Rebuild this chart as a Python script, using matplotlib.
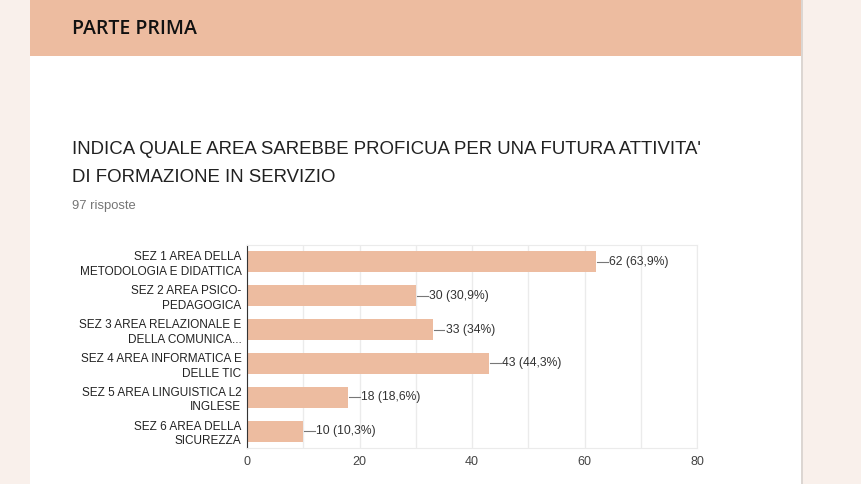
import matplotlib.pyplot as plt
from matplotlib.patches import Rectangle

# -------- DATA ------------------------------------------------------
categories = [
    "SEZ 1 AREA DELLA\nMETODOLOGIA E DIDATTICA",
    "SEZ 2 AREA PSICO-\nPEDAGOGICA",
    "SEZ 3 AREA RELAZIONALE E\nDELLA COMUNICA...",
    "SEZ 4 AREA INFORMATICA E\nDELLE TIC",
    "SEZ 5 AREA LINGUISTICA L2\nINGLESE",
    "SEZ 6 AREA DELLA\nSICUREZZA",
]
counts = [62, 30, 33, 43, 18, 10]
percents = ["63,9%", "30,9%", "34%", "44,3%", "18,6%", "10,3%"]
xticks = [0, 20, 40, 60, 80]
# --------------------------------------------------------------------

W, H = 861, 484
BAR = "#edbca0"
PAGE = "#f9f0eb"

plt.rcParams["font.family"] = ["Liberation Sans", "DejaVu Sans"]


def px(x0, y0, x1, y1):
    # pixel box (top-left origin) -> figure fraction rect
    return [x0 / W, 1 - y1 / H, (x1 - x0) / W, (y1 - y0) / H]


fig = plt.figure(figsize=(W / 100, H / 100), dpi=100)
fig.patch.set_facecolor(PAGE)

# card shadow, card and header band
r = px(30, 0, 803, H)
fig.add_artist(Rectangle((r[0], r[1]), r[2], r[3], transform=fig.transFigure,
                         facecolor="#dcd6d2", edgecolor="none", zorder=0))
r = px(30, 0, 801, H)
fig.add_artist(Rectangle((r[0], r[1]), r[2], r[3], transform=fig.transFigure,
                         facecolor="white", edgecolor="none", zorder=0))
r = px(30, 0, 801, 56)
fig.add_artist(Rectangle((r[0], r[1]), r[2], r[3], transform=fig.transFigure,
                         facecolor=BAR, edgecolor="none", zorder=1))

fig.text(72 / W, 1 - 29 / H, "PARTE PRIMA", fontsize=14, family="Open Sans",
         fontweight="semibold", color="#111111", va="center", ha="left")
fig.text(72 / W, 1 - 150 / H, "INDICA QUALE AREA SAREBBE PROFICUA PER UNA FUTURA ATTIVITA'",
         fontsize=13.4, color="#212121", va="center", ha="left")
fig.text(72 / W, 1 - 177 / H, "DI FORMAZIONE IN SERVIZIO",
         fontsize=13.4, color="#212121", va="center", ha="left")
fig.text(72 / W, 1 - 206 / H, "97 risposte", fontsize=9.4, color="#757575",
         va="center", ha="left")

ax = fig.add_axes(px(247, 245, 697, 448))
ax.set_facecolor("white")
ypos = list(range(len(categories)))
ax.barh(ypos, counts, height=0.62, color=BAR, zorder=2)

ax.set_xlim(0, 80)
ax.set_ylim(len(categories) - 0.5, -0.5)
ax.set_xticks(xticks)
ax.set_xticks(range(0, 81, 10), minor=True)
ax.grid(True, axis="x", which="both", color="#ebebeb", linewidth=1, zorder=0)
ax.tick_params(axis="x", which="both", length=0, labelsize=9, labelcolor="#444444", pad=6)
ax.tick_params(axis="y", length=0, pad=4)
ax.set_yticks(ypos)
ax.set_yticklabels(categories, fontsize=8.5, color="#222222", linespacing=1.3)

for s in ["top", "right", "bottom"]:
    ax.spines[s].set_color("#ebebeb")
ax.spines["left"].set_color("#333333")

for y, c, p in zip(ypos, counts, percents):
    ax.plot([c + 0.2, c + 2.1], [y, y], color="#777777", linewidth=0.8, zorder=3)
    ax.text(c + 2.3, y, f"{c} ({p})", fontsize=8.7, color="#333333",
            va="center", ha="left")

fig.savefig("out.png", dpi=100, facecolor=fig.get_facecolor())
